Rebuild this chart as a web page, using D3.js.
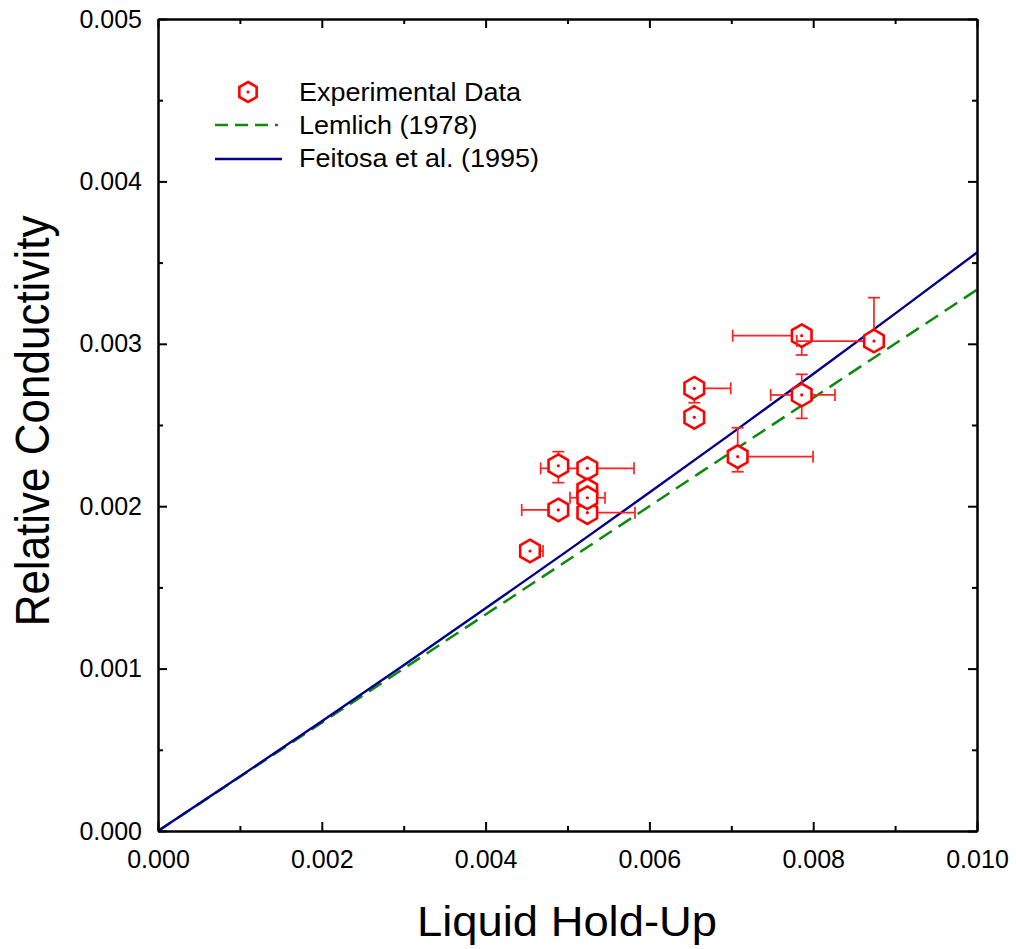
<!DOCTYPE html>
<html lang="en">
<head>
    <meta charset="UTF-8">
    <title>Relative Conductivity</title>
    <script src="https://cdn.jsdelivr.net/npm/d3@7/dist/d3.min.js"></script>
    <style>
        body { margin: 0; background: #fff; }
        text { font-family: "Liberation Sans", Arial, sans-serif; fill: #000; }
        .axis path, .axis line { stroke: #000; stroke-width: 2px; }
        .axis text { font-size: 25px; font-family: "Liberation Sans", Arial, sans-serif; }
        .err { stroke: #ff2020; stroke-width: 1.7px; fill: none; }
        .marker { stroke: #ff0000; stroke-width: 2.6px; fill: #fff; }
    </style>
</head>
<body>
    <svg width=1016 height=949></svg>
    <script>
        // experimental points (in draw order), error bounds as absolute values, null = no bar
        var holdUp       = [0.004542, 0.005242, 0.004888, 0.005242, 0.005242, 0.005242, 0.004888, 0.006548, 0.006548, 0.007078, 0.007860, 0.007860, 0.008742];
        var conductivity = [0.001724, 0.002233, 0.002249, 0.002100, 0.001960, 0.002052, 0.001977, 0.002726, 0.002547, 0.002305, 0.002685, 0.003050, 0.003017];
        var xLow  = [0.004420, 0.004672, null, null, null, 0.005031, 0.004441, null, null, 0.006960, 0.007481, 0.007017, 0.007799];
        var xHigh = [0.004701, 0.005812, null, null, 0.005824, 0.005458, null, 0.006993, null, 0.007998, 0.008266, null, null];
        var yLow  = [null, null, 0.002145, null, null, null, null, 0.002637, null, 0.002212, 0.002541, 0.002931, null];
        var yHigh = [null, null, 0.002336, null, null, null, null, null, null, 0.002483, 0.002812, null, 0.003284];

        // model curves
        var lemlichX = [0, 0.002, 0.004, 0.006, 0.008, 0.010];
        var lemlichY = [0, 0.000667, 0.001333, 0.002000, 0.002667, 0.003333];
        var feitosaX = [0, 0.001, 0.002, 0.003, 0.004, 0.005, 0.006, 0.007, 0.008, 0.009, 0.010];
        var feitosaY = [0, 0.000336, 0.000676, 0.001021, 0.001371, 0.001725, 0.002084, 0.002447, 0.002814, 0.003186, 0.003562];

        var xTicks = [0, 0.002, 0.004, 0.006, 0.008, 0.010];
        var xMinor = [0.001, 0.003, 0.005, 0.007, 0.009];
        var yTicks = [0, 0.001, 0.002, 0.003, 0.004, 0.005];
        var yMinor = [0.0005, 0.0015, 0.0025, 0.0035, 0.0045];

        var legendLabels = ['Experimental Data', 'Lemlich (1978)', 'Feitosa et al. (1995)'];

        var svg = d3.select('svg'),
            margin = {top: 19, right: 39, bottom: 118, left: 158},
            width = 1016 - margin.left - margin.right,
            height = 949 - margin.top - margin.bottom,
            SX = 1.08,
            xScale = d3.scaleLinear().domain([0, 0.010]).range([0, width]),
            yScale = d3.scaleLinear().domain([0, 0.005]).range([height, 0]),
            fmt = d3.format('.3f');

        var chartG = svg.append('g')
            .attr('transform', 'translate(' + [margin.left, margin.top] + ')');

        svg.append('defs').append('clipPath').attr('id', 'clip')
            .append('rect').attr('width', width).attr('height', height);

        // curves
        var line = d3.line()
            .x(function(d) { return xScale(d[0]); })
            .y(function(d) { return yScale(d[1]); });

        var curves = chartG.append('g').attr('clip-path', 'url(#clip)');
        curves.append('path')
            .datum(d3.zip(lemlichX, lemlichY))
            .attr('d', line)
            .attr('fill', 'none')
            .attr('stroke', '#0b8a0b')
            .attr('stroke-width', 2.5)
            .attr('stroke-dasharray', '15,8');
        curves.append('path')
            .datum(d3.zip(feitosaX, feitosaY))
            .attr('d', line)
            .attr('fill', 'none')
            .attr('stroke', '#000088')
            .attr('stroke-width', 2.4);

        // hexagon marker
        function hexPath(r) {
            var pts = d3.range(6).map(function(i) {
                var a = Math.PI / 180 * (-90 + 60 * i);
                return [r * Math.cos(a), r * Math.sin(a)];
            });
            return 'M' + pts.join('L') + 'Z';
        }
        var hex = hexPath(11.3), cap = 6;

        var pts = chartG.append('g');
        holdUp.forEach(function(xv, i) {
            var g = pts.append('g'),
                cx = xScale(xv), cy = yScale(conductivity[i]);
            if (xLow[i] !== null) {
                var xl = xScale(xLow[i]);
                g.append('line').attr('class', 'err').attr('x1', xl).attr('x2', cx).attr('y1', cy).attr('y2', cy);
                g.append('line').attr('class', 'err').attr('x1', xl).attr('x2', xl).attr('y1', cy - cap).attr('y2', cy + cap);
            }
            if (xHigh[i] !== null) {
                var xh = xScale(xHigh[i]);
                g.append('line').attr('class', 'err').attr('x1', cx).attr('x2', xh).attr('y1', cy).attr('y2', cy);
                g.append('line').attr('class', 'err').attr('x1', xh).attr('x2', xh).attr('y1', cy - cap).attr('y2', cy + cap);
            }
            if (yLow[i] !== null) {
                var yl = yScale(yLow[i]);
                g.append('line').attr('class', 'err').attr('x1', cx).attr('x2', cx).attr('y1', cy).attr('y2', yl);
                g.append('line').attr('class', 'err').attr('x1', cx - cap).attr('x2', cx + cap).attr('y1', yl).attr('y2', yl);
            }
            if (yHigh[i] !== null) {
                var yh = yScale(yHigh[i]);
                g.append('line').attr('class', 'err').attr('x1', cx).attr('x2', cx).attr('y1', cy).attr('y2', yh);
                g.append('line').attr('class', 'err').attr('x1', cx - cap).attr('x2', cx + cap).attr('y1', yh).attr('y2', yh);
            }
            g.append('path').attr('class', 'marker').attr('d', hex)
                .attr('transform', 'translate(' + [cx, cy] + ')');
            g.append('circle').attr('cx', cx).attr('cy', cy).attr('r', 1.6).attr('fill', '#ff0000');
        });

        // axes, ticks inward on all four sides
        chartG.append('g').classed('axis', true)
            .attr('transform', 'translate(0,' + height + ')')
            .call(d3.axisBottom(xScale).tickValues(xTicks).tickFormat(fmt).tickSize(-9).tickSizeOuter(0).tickPadding(19));
        chartG.append('g').classed('axis', true)
            .attr('transform', 'translate(0,' + height + ')')
            .call(d3.axisBottom(xScale).tickValues(xMinor).tickFormat('').tickSize(-5).tickSizeOuter(0));
        chartG.append('g').classed('axis', true)
            .call(d3.axisTop(xScale).tickValues(xTicks).tickFormat('').tickSize(-9).tickSizeOuter(0));
        chartG.append('g').classed('axis', true)
            .call(d3.axisTop(xScale).tickValues(xMinor).tickFormat('').tickSize(-5).tickSizeOuter(0));

        chartG.append('g').classed('axis', true)
            .call(d3.axisLeft(yScale).tickValues(yTicks).tickFormat(fmt).tickSize(-9).tickSizeOuter(0).tickPadding(16));
        chartG.append('g').classed('axis', true)
            .call(d3.axisLeft(yScale).tickValues(yMinor).tickFormat('').tickSize(-5).tickSizeOuter(0));
        chartG.append('g').classed('axis', true)
            .attr('transform', 'translate(' + width + ',0)')
            .call(d3.axisRight(yScale).tickValues(yTicks).tickFormat('').tickSize(-9).tickSizeOuter(0));
        chartG.append('g').classed('axis', true)
            .attr('transform', 'translate(' + width + ',0)')
            .call(d3.axisRight(yScale).tickValues(yMinor).tickFormat('').tickSize(-5).tickSizeOuter(0));

        chartG.selectAll('.axis .domain').attr('stroke-width', 2.2);

        // titles
        svg.append('text')
            .attr('transform', 'translate(567,936) scale(' + SX + ',1)')
            .attr('text-anchor', 'middle')
            .attr('font-size', 42)
            .text('Liquid Hold-Up');
        svg.append('text')
            .attr('transform', 'translate(49,421) scale(' + SX + ',1) rotate(-90)')
            .attr('text-anchor', 'middle')
            .attr('font-size', 44)
            .text('Relative Conductivity');

        // legend
        var legend = svg.append('g');
        legend.append('path').attr('class', 'marker').attr('d', hexPath(10))
            .attr('transform', 'translate(248,92)');
        legend.append('circle').attr('cx', 248).attr('cy', 92).attr('r', 1.6).attr('fill', '#ff0000');
        legend.append('line').attr('x1', 215).attr('x2', 278).attr('y1', 125).attr('y2', 125)
            .attr('stroke', '#0b8a0b').attr('stroke-width', 2.4).attr('stroke-dasharray', '13,7');
        legend.append('line').attr('x1', 215).attr('x2', 282).attr('y1', 159).attr('y2', 159)
            .attr('stroke', '#000088').attr('stroke-width', 2.4);
        legendLabels.forEach(function(s, i) {
            legend.append('text')
                .attr('transform', 'translate(299,' + (101 + i * 33) + ') scale(' + SX + ',1)')
                .attr('font-size', 25)
                .text(s);
        });
    </script>
</body>
</html>
